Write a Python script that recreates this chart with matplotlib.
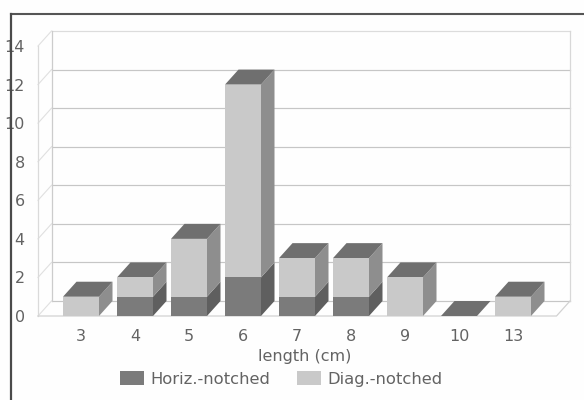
import matplotlib
matplotlib.use("Agg")
import matplotlib.pyplot as plt
from matplotlib.lines import Line2D

categories = ["3", "4", "5", "6", "7", "8", "9", "10", "13"]
horiz_notched = [0, 1, 1, 2, 1, 1, 0, 0, 0]
diag_notched = [1, 1, 3, 10, 2, 2, 2, 0, 1]
y_ticks = [0, 2, 4, 6, 8, 10, 12, 14]
series_names = ["Horiz.-notched", "Diag.-notched"]
x_label = "length (cm)"

W, H = 584, 400
TXT = "#636363"
plt.rcParams["font.family"] = ["DejaVu Sans"]
fig = plt.figure(figsize=(W / 100, H / 100), dpi=100, facecolor="#fefefe")
L, R, B, T = 38, 556.5, 316, 46
ax = fig.add_axes([L / W, 1 - B / H, (R - L) / W, (B - T) / H])
ax.patch.set_alpha(0)
sx = 54.0
sy = (B - T) / 14
ax.set_xlim((L - 81) / sx, (R - 81) / sx)
ax.set_ylim(0, 14)
dx, dy = 13.5 / sx, 15.0 / sy
bw = 36 / sx
xl, xr = ax.get_xlim()

# walls, floor and gridlines
for v in y_ticks:
    ax.plot([xl + dx, xr + dx], [v + dy, v + dy], color="#c6c6c6" if v < 14 else "#dcdcdc",
            lw=0.85, clip_on=False, zorder=1)
    ax.plot([xl, xl + dx], [v, v + dy], color="#e0e0e0", lw=0.8, clip_on=False, zorder=1)
ax.plot([xl, xl], [0, 14], color="#dadada", lw=0.9, clip_on=False, zorder=1)
ax.plot([xl + dx, xl + dx], [0 + dy, 14 + dy], color="#cccccc", lw=0.9, clip_on=False, zorder=1)
ax.plot([xr + dx, xr + dx], [0 + dy, 14 + dy], color="#d8d8d8", lw=0.9, clip_on=False, zorder=1)
ax.plot([xl, xr, xr + dx], [0, 0, dy], color="#d2d2d2", lw=0.9, clip_on=False, zorder=1)

xs = list(range(len(categories)))
FRONT = {"h": "#7b7b7b", "d": "#c9c9c9"}
SIDE = {"h": "#5f5f5f", "d": "#8e8e8e"}
TOP = "#6f6f6f"

h_bars = ax.bar(xs, horiz_notched, width=bw, color=FRONT["h"], zorder=3, label=series_names[0])
d_bars = ax.bar(xs, diag_notched, width=bw, bottom=horiz_notched, color=FRONT["d"], zorder=3,
                label=series_names[1])
for x, h, d in zip(xs, horiz_notched, diag_notched):
    right = x + bw / 2
    left = x - bw / 2
    if h:
        ax.fill([right, right + dx, right + dx, right], [0, dy, h + dy, h], color=SIDE["h"],
                lw=0, zorder=2.5, clip_on=False)
    if d:
        ax.fill([right, right + dx, right + dx, right], [h, h + dy, h + d + dy, h + d],
                color=SIDE["d"], lw=0, zorder=2.5, clip_on=False)
    top = h + d
    ax.fill([left, right, right + dx, left + dx], [top, top, top + dy, top + dy], color=TOP,
            lw=0, zorder=2.5, clip_on=False)

for s in ax.spines.values():
    s.set_visible(False)
ax.set_xticks(xs, categories)
ax.set_yticks(y_ticks, [str(v) for v in y_ticks])
ax.tick_params(axis="both", length=0, labelsize=11.5, labelcolor=TXT)
ax.tick_params(axis="y", pad=9.5)
ax.tick_params(axis="x", pad=9.5)
ax.set_xlabel(x_label, fontsize=11.5, color=TXT)
ax.xaxis.label.set_verticalalignment("center")
ax.xaxis.set_label_coords((305 - L) / (R - L), -(356 - B) / (B - T), transform=ax.transAxes)

leg = ax.legend(handles=[h_bars, d_bars], ncols=2, frameon=False, fontsize=11.8,
                labelcolor=TXT, handlelength=1.46, handleheight=0.93, handletextpad=0.37,
                columnspacing=1.65, borderpad=0, borderaxespad=0,
                loc="center", bbox_to_anchor=(281.5 / W, 1 - 379 / H),
                bbox_transform=fig.transFigure)

# scanned outer frame
for xd, yd, c, lw in [([11, 584], [14, 14], "#555555", 1.5), ([11, 11], [14, 400], "#4a4a4a", 1.6)]:
    fig.add_artist(Line2D([a / W for a in xd], [1 - b / H for b in yd], color=c, lw=lw, zorder=10))

fig.savefig("out.png", dpi=100, facecolor=fig.get_facecolor())
